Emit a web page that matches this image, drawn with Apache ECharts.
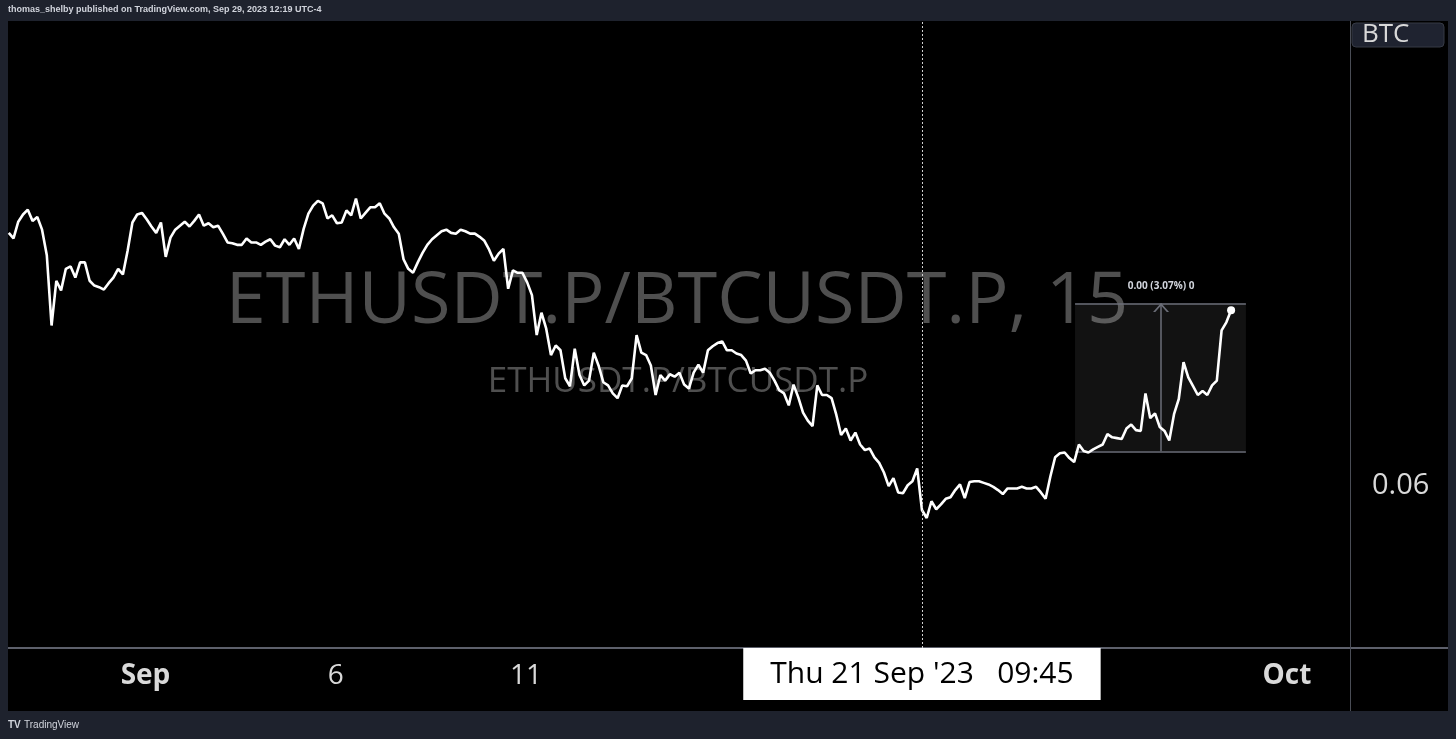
<!DOCTYPE html>
<html><head><meta charset="utf-8">
<script src="https://cdn.jsdelivr.net/npm/echarts@6/dist/echarts.min.js"></script>
<style>html,body{margin:0;padding:0;background:#1e222d;}#c{width:1456px;height:739px;}</style>
</head><body><div id="c"></div>
<script>
// ---- data ----
const symbolTitle = 'ETHUSDT.P/BTCUSDT.P, 15';
const symbolSub = 'ETHUSDT.P/BTCUSDT.P';
const headerText = 'thomas_shelby published on TradingView.com, Sep 29, 2023 12:19 UTC-4';
const startDay = -3.59375;   // days from Sep 1 00:00 (Aug 28 09:45)
const stepDay = 0.125;       // 3 hours per point
const ratio = [
0.06316,0.06309,0.06330,0.06339,0.06345,0.06331,0.06336,0.06320,0.06288,0.06200,
0.06256,0.06244,0.06271,0.06274,0.06260,0.06279,0.06279,0.06256,0.06250,0.06248,
0.06245,0.06253,0.06260,0.06271,0.06264,0.06294,0.06329,0.06339,0.06341,0.06333,
0.06324,0.06316,0.06329,0.06286,0.06310,0.06320,0.06325,0.06330,0.06324,0.06331,
0.06339,0.06325,0.06328,0.06323,0.06325,0.06315,0.06304,0.06303,0.06301,0.06301,
0.06309,0.06304,0.06304,0.06301,0.06305,0.06308,0.06300,0.06298,0.06308,0.06301,
0.06309,0.06296,0.06321,0.06340,0.06350,0.06356,0.06353,0.06334,0.06338,0.06328,
0.06329,0.06344,0.06338,0.06359,0.06334,0.06341,0.06348,0.06348,0.06353,0.06340,
0.06334,0.06323,0.06315,0.06283,0.06271,0.06266,0.06279,0.06291,0.06301,0.06308,
0.06313,0.06318,0.06320,0.06316,0.06315,0.06320,0.06318,0.06315,0.06315,0.06311,
0.06306,0.06295,0.06281,0.06290,0.06296,0.06246,0.06269,0.06266,0.06266,0.06254,
0.06238,0.06188,0.06216,0.06196,0.06163,0.06175,0.06169,0.06134,0.06124,0.06171,
0.06138,0.06125,0.06131,0.06166,0.06150,0.06129,0.06125,0.06115,0.06109,0.06125,
0.06124,0.06134,0.06188,0.06166,0.06163,0.06150,0.06113,0.06138,0.06131,0.06139,
0.06136,0.06141,0.06126,0.06121,0.06141,0.06151,0.06141,0.06169,0.06174,0.06178,
0.06180,0.06169,0.06169,0.06165,0.06163,0.06156,0.06140,0.06144,0.06144,0.06146,
0.06141,0.06131,0.06119,0.06115,0.06100,0.06126,0.06110,0.06091,0.06081,0.06074,
0.06125,0.06113,0.06113,0.06109,0.06088,0.06063,0.06071,0.06056,0.06066,0.06051,
0.06044,0.06046,0.06035,0.06028,0.06016,0.05999,0.06009,0.05991,0.05990,0.06000,
0.06005,0.06021,0.05969,0.05959,0.05980,0.05970,0.05976,0.05983,0.05985,0.05994,
0.06001,0.05984,0.06004,0.06005,0.06005,0.06003,0.06001,0.05998,0.05994,0.05989,
0.05996,0.05996,0.05996,0.05998,0.05996,0.05996,0.05998,0.05991,0.05983,0.06011,
0.06035,0.06040,0.06041,0.06034,0.06029,0.06051,0.06043,0.06041,0.06045,0.06048,
0.06051,0.06064,0.06060,0.06059,0.06058,0.06071,0.06076,0.06069,0.06068,0.06115,
0.06084,0.06090,0.06073,0.06068,0.06056,0.06089,0.06108,0.06154,0.06135,0.06124,
0.06113,0.06118,0.06113,0.06125,0.06131,0.06194,0.06204,0.06219
];
const xTickDays = [0, 5, 10, 30];
const xTickLabels = ['Sep', '6', '11', 'Oct'];
const xTickIsMonth = [true, false, false, true];
const yTickValues = [0.06];
const yTickLabels = ['0.06'];
const xRange = [-3.6137, 31.656];
const yRange = [0.0579625, 0.0658125];
const crossDay = 20.40625;
const crossLabel = "Thu 21 Sep '23   09:45";
const measureDays = [24.43, 28.92];
const measureArrowDay = 26.69;
const measureValues = [0.060425, 0.062275];
const measureText = '0.00 (3.07%) 0';
const currencyLabel = 'BTC';

// ---- chart ----
const data = ratio.map((v, i) => [startDay + i * stepDay, v]);
const last = data[data.length - 1];
const FONT = '"Open Sans", "Noto Sans", sans-serif';
const chart = echarts.init(document.getElementById('c'), null, {renderer: 'canvas'});
chart.setOption({
  animation: false,
  backgroundColor: '#1e222d',
  grid: {left: 8, right: 106, top: 21, bottom: 91},
  xAxis: {
    type: 'value', min: xRange[0], max: xRange[1],
    axisLine: {show: false}, axisTick: {show: false}, splitLine: {show: false},
    axisLabel: {
      customValues: xTickDays,
      margin: 14,
      fontFamily: FONT, fontSize: 28, color: '#d9d9d9',
      formatter: function (v) {
        const i = xTickDays.findIndex(d => Math.abs(d - v) < 1e-6);
        if (i < 0) return '';
        return xTickIsMonth[i] ? '{b|' + xTickLabels[i] + '}' : xTickLabels[i];
      },
      rich: {b: {fontFamily: FONT, fontSize: 28, fontWeight: 'bold', color: '#d9d9d9'}}
    },
    axisPointer: {
      show: true, status: 'show', value: crossDay, snap: false, type: 'line',
      lineStyle: {color: '#d0d0d0', width: 1, type: [2, 2]},
      label: {
        show: true, margin: 0, formatter: function () { return crossLabel; },
        backgroundColor: '#ffffff', color: '#000000', fontFamily: FONT, fontSize: 30,
        padding: [11, 27, 11, 27], borderRadius: 0, shadowBlur: 0
      }
    }
  },
  yAxis: {
    type: 'value', position: 'right', min: yRange[0], max: yRange[1],
    axisLine: {show: false}, axisTick: {show: false}, splitLine: {show: false},
    axisLabel: {
      customValues: yTickValues, margin: 22,
      fontFamily: FONT, fontSize: 29, color: '#d9d9d9',
      formatter: function (v) {
        const i = yTickValues.findIndex(d => Math.abs(d - v) < 1e-9);
        return i < 0 ? '' : yTickLabels[i];
      }
    }
  },
  series: [{
    type: 'line', data: data, showSymbol: false, z: 5,
    lineStyle: {color: '#ffffff', width: 2.6},
    markArea: {
      silent: true,
      itemStyle: {color: 'rgba(255,255,255,0.07)'},
      data: [[{coord: [measureDays[0], measureValues[0]]}, {coord: [measureDays[1], measureValues[1]]}]]
    },
    markLine: {
      silent: true, symbol: 'none',
      lineStyle: {color: '#6b6e78', width: 1.5, type: 'solid'},
      label: {show: false},
      data: [
        [{coord: [measureDays[0], measureValues[1]]}, {coord: [measureDays[1], measureValues[1]]}],
        [{coord: [measureDays[0], measureValues[0]]}, {coord: [measureDays[1], measureValues[0]]}],
        [{coord: [measureArrowDay, measureValues[0]], symbol: 'none'},
         {coord: [measureArrowDay, measureValues[1]],
          symbol: 'path://M0,10 L5,0 L10,10 L8.6,10 L5,2.6 L1.4,10 Z', symbolSize: [16, 9], symbolOffset: [0, 4],
          label: {show: true, position: 'end', distance: 12, formatter: measureText,
                  color: '#d1d4dc', fontFamily: FONT, fontSize: 10, fontWeight: 'bold'}}]
      ]
    },
    markPoint: {
      silent: true, symbol: 'circle', symbolSize: 8,
      itemStyle: {color: '#ffffff'}, label: {show: false},
      data: [{coord: last}]
    }
  }],
  graphic: [
    {type: 'rect', z: -10, shape: {x: 8, y: 21, width: 1440, height: 690}, style: {fill: '#000000'}},
    {type: 'text', z: -5, x: 677, y: 302,
      style: {text: symbolTitle, fill: '#4f4f4f', font: '72px "Open Sans", sans-serif', align: 'center', verticalAlign: 'middle'}},
    {type: 'text', z: -5, x: 678, y: 382,
      style: {text: symbolSub, fill: '#4f4f4f', font: '35px "Open Sans", sans-serif', align: 'center', verticalAlign: 'middle'}},
    {type: 'line', z: 10, shape: {x1: 8, y1: 648, x2: 1448, y2: 648}, style: {stroke: '#5d606b', lineWidth: 2}},
    {type: 'line', z: 10, shape: {x1: 1350.5, y1: 21, x2: 1350.5, y2: 711}, style: {stroke: '#4a4d56', lineWidth: 1}},
    {type: 'rect', z: 10, shape: {x: 1352, y: 23, width: 92, height: 24, r: 4}, style: {fill: '#1f2330', stroke: '#363a45', lineWidth: 1}},
    {type: 'text', z: 11, x: 1362, y: 35,
      style: {text: currencyLabel, fill: '#d9d9d9', font: '26px "Open Sans", sans-serif', align: 'left', verticalAlign: 'middle'}},
    {type: 'text', z: 10, x: 8, y: 10,
      style: {text: headerText, fill: '#d1d4dc', font: 'bold 9px "Liberation Sans", sans-serif', align: 'left', verticalAlign: 'middle'}},
    {type: 'text', z: 10, x: 8, y: 725,
      style: {text: 'TV', fill: '#d1d4dc', font: 'bold 10px "Liberation Sans", sans-serif', align: 'left', verticalAlign: 'middle'}},
    {type: 'text', z: 10, x: 24, y: 725,
      style: {text: 'TradingView', fill: '#d1d4dc', font: '10px "Liberation Sans", sans-serif', align: 'left', verticalAlign: 'middle'}}
  ]
});
</script></body></html>
